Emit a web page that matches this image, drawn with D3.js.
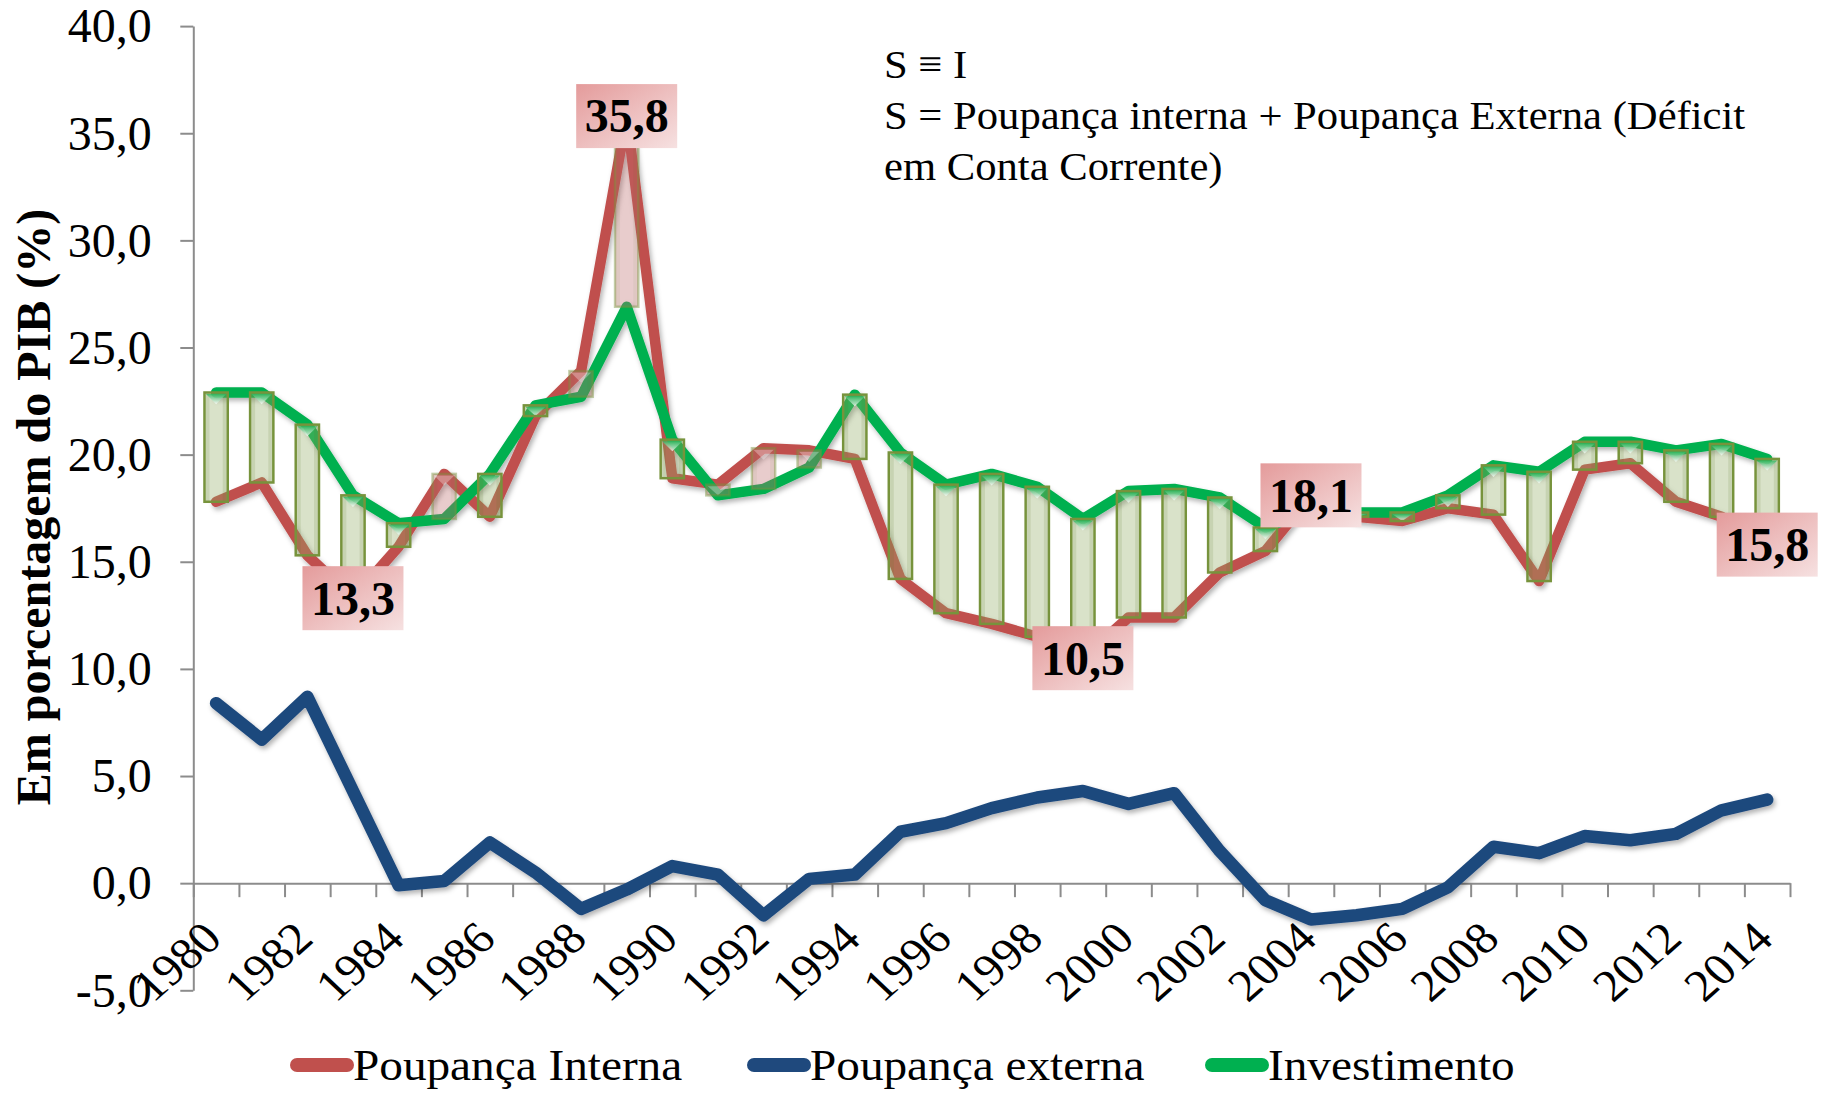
<!DOCTYPE html>
<html>
<head>
<meta charset="utf-8">
<script src="https://cdn.jsdelivr.net/npm/d3@7/dist/d3.min.js"></script>
<style>
body { margin: 0; background: #fff; }
svg text { font-family: "Liberation Serif", "Times New Roman", serif; fill: #000; }
</style>
</head>
<body>
<svg id="chart" width="1826" height="1095"></svg>
<script>
var anos = ["1980", "1981", "1982", "1983", "1984", "1985", "1986", "1987", "1988", "1989",
    "1990", "1991", "1992", "1993", "1994", "1995", "1996", "1997", "1998", "1999",
    "2000", "2001", "2002", "2003", "2004", "2005", "2006", "2007", "2008", "2009",
    "2010", "2011", "2012", "2013", "2014"];

var poupancaInterna = [17.8, 18.7, 15.3, 13.3, 15.7, 19.1, 17.1, 21.8, 23.9, 35.8,
    18.9, 18.6, 20.3, 20.2, 19.8, 14.2, 12.6, 12.1, 11.5, 10.5,
    12.4, 12.4, 14.5, 15.5, 18.1, 17.1, 16.9, 17.5, 17.2, 14.1,
    19.3, 19.6, 17.8, 17.1, 15.8];

var poupancaExterna = [8.4, 6.7, 8.7, 4.3, -0.1, 0.1, 1.9, 0.5, -1.2, -0.3,
    0.8, 0.4, -1.5, 0.2, 0.4, 2.4, 2.8, 3.5, 4.0, 4.3,
    3.7, 4.2, 1.5, -0.8, -1.7, -1.5, -1.2, -0.2, 1.7, 1.4,
    2.2, 2.0, 2.3, 3.4, 3.9];

var investimento = [22.9, 22.9, 21.4, 18.1, 16.8, 17.0, 19.1, 22.3, 22.7, 26.9,
    20.7, 18.1, 18.4, 19.4, 22.8, 20.1, 18.6, 19.1, 18.5, 17.0,
    18.3, 18.4, 18.0, 16.6, 17.4, 17.3, 17.3, 18.1, 19.5, 19.2,
    20.6, 20.6, 20.2, 20.5, 19.8];

var yTicks = [-5, 0, 5, 10, 15, 20, 25, 30, 35, 40];
var xTickLabels = ["1980", "1982", "1984", "1986", "1988", "1990", "1992", "1994", "1996",
    "1998", "2000", "2002", "2004", "2006", "2008", "2010", "2012", "2014"];
var destaques = ["1983", "1989", "1999", "2004", "2014"];
var legenda = ["Poupança Interna", "Poupança externa", "Investimento"];
var cores = ["#c0504d", "#1f497d", "#00b050"];
var notas = ["S \u2261 I", "S = Poupança interna + Poupança Externa (Déficit", "em Conta Corrente)"];

var fmt = function (v) { return v.toFixed(1).replace(".", ","); };

var svg = d3.select("#chart");
var defs = svg.append("defs");

var sombra = defs.append("filter").attr("id", "sombra")
    .attr("x", "-10%").attr("y", "-10%").attr("width", "120%").attr("height", "130%");
sombra.append("feDropShadow").attr("dx", 2).attr("dy", 3).attr("stdDeviation", 2.5)
    .attr("flood-color", "#000").attr("flood-opacity", 0.3);

var gradRotulo = defs.append("linearGradient").attr("id", "gradRotulo")
    .attr("x1", 0).attr("y1", 0).attr("x2", 1).attr("y2", 1);
gradRotulo.append("stop").attr("offset", "0%").attr("stop-color", "#e49b9b");
gradRotulo.append("stop").attr("offset", "100%").attr("stop-color", "#f6e1e1");

var gradTopo = defs.append("linearGradient").attr("id", "gradTopo")
    .attr("x1", 0).attr("y1", 0).attr("x2", 0).attr("y2", 1);
gradTopo.append("stop").attr("offset", "0%").attr("stop-color", "#2fb55c").attr("stop-opacity", 0.85);
gradTopo.append("stop").attr("offset", "100%").attr("stop-color", "#ffffff").attr("stop-opacity", 0.75);

var x = d3.scaleBand().domain(anos).range([193.3, 1790]);
var xBorda = d3.scaleLinear().domain([0, anos.length]).range([193.3, 1790]);
var y = d3.scaleLinear().domain([-5, 40]).range([990.3, 26.1]);
var cx = function (ano) { return x(ano) + x.bandwidth() / 2; };

// eixos
var eixoY = svg.append("g").attr("transform", "translate(193.3,0)")
    .call(d3.axisLeft(y).tickValues(yTicks).tickSize(13).tickSizeOuter(0).tickFormat(""));
var eixoX = svg.append("g").attr("transform", "translate(0," + y(0) + ")")
    .call(d3.axisBottom(xBorda).tickValues(d3.range(anos.length + 1)).tickSize(14).tickSizeOuter(0).tickFormat(""));
[eixoY, eixoX].forEach(function (g) {
    g.selectAll("path, line").attr("stroke", "#8c8c8c").attr("stroke-width", 2);
});

svg.append("g").selectAll("text")
    .data(yTicks)
    .enter()
    .append("text")
    .attr("x", 151.7)
    .attr("y", function (d) { return y(d); })
    .attr("text-anchor", "end")
    .attr("dy", "0.34em")
    .style("font-size", "48px")
    .text(fmt);

svg.append("g").selectAll("g")
    .data(xTickLabels)
    .enter()
    .append("g")
    .attr("transform", function (d) { return "translate(" + (cx(d) + 8) + ",941) scale(1.1,1) rotate(-44)"; })
    .append("text")
    .attr("text-anchor", "end")
    .style("font-size", "45px")
    .text(function (d) { return d; });

svg.append("text")
    .attr("transform", "translate(50,507) rotate(-90)")
    .attr("text-anchor", "middle")
    .style("font-size", "48px")
    .style("font-weight", "bold")
    .text("Em porcentagem do PIB (%)");

// linhas
var series = [poupancaInterna, poupancaExterna, investimento];
var linha = d3.line()
    .x(function (d, i) { return cx(anos[i]); })
    .y(function (d) { return y(d); });

svg.append("g").attr("filter", "url(#sombra)").selectAll("path")
    .data(series)
    .enter()
    .append("path")
    .attr("d", linha)
    .attr("fill", "none")
    .attr("stroke", function (d, i) { return cores[i]; })
    .attr("stroke-width", function (d, i) { return i === 1 ? 12.5 : 10.5; })
    .attr("stroke-linejoin", "round")
    .attr("stroke-linecap", "round");

// barras de alta/baixa
var larg = x.bandwidth() * 0.51;
var barras = svg.append("g").selectAll("g")
    .data(anos)
    .enter()
    .append("g")
    .attr("transform", function (d) { return "translate(" + (cx(d) - larg / 2) + ",0)"; });

barras.each(function (ano, i) {
    var g = d3.select(this),
        a = poupancaInterna[i],
        f = investimento[i],
        alta = f >= a,
        topo = y(Math.max(a, f)),
        alt = Math.abs(y(a) - y(f));

    g.append("rect")
        .attr("y", topo)
        .attr("width", larg)
        .attr("height", alt)
        .attr("fill", alta ? "#92ac65" : "#bd6d6d")
        .attr("fill-opacity", 0.35);
    g.append("rect")
        .attr("x", 1.5)
        .attr("y", topo)
        .attr("width", 3.5)
        .attr("height", alt)
        .attr("fill", "#5a7a2a")
        .attr("fill-opacity", alta ? 0.14 : 0.06);
    g.append("rect")
        .attr("x", larg - 5)
        .attr("y", topo)
        .attr("width", 3.5)
        .attr("height", alt)
        .attr("fill", "#5a7a2a")
        .attr("fill-opacity", alta ? 0.14 : 0.06);
    var prof = Math.min(larg / 2, alt);
    g.append("polygon")
        .attr("points", [[1.5, topo + 1.5], [larg - 1.5, topo + 1.5], [larg / 2, topo + prof]].join(" "))
        .attr("fill", alta ? "url(#gradTopo)" : "#ffffff")
        .attr("fill-opacity", alta ? 1 : 0.3);
    g.append("rect")
        .attr("y", topo)
        .attr("width", larg)
        .attr("height", alt)
        .attr("fill", "none")
        .attr("stroke", "#77933c")
        .attr("stroke-opacity", alta ? 1 : 0.45)
        .attr("stroke-width", 2.5);
});

// rotulos de destaque
var rotulos = svg.append("g").selectAll("g")
    .data(destaques)
    .enter()
    .append("g")
    .attr("transform", function (d) {
        return "translate(" + cx(d) + "," + y(poupancaInterna[anos.indexOf(d)]) + ")";
    });
rotulos.append("rect")
    .attr("x", -50.5).attr("y", -32)
    .attr("width", 101).attr("height", 64)
    .attr("fill", "url(#gradRotulo)");
rotulos.append("text")
    .attr("text-anchor", "middle")
    .attr("dy", "0.34em")
    .style("font-size", "48px")
    .style("font-weight", "bold")
    .text(function (d) { return fmt(poupancaInterna[anos.indexOf(d)]); });

// nota
svg.append("g").selectAll("g")
    .data(notas)
    .enter()
    .append("g")
    .attr("transform", function (d, i) { return "translate(884," + (78 + i * 51) + ") scale(1.04,1)"; })
    .append("text")
    .style("font-size", "41px")
    .text(function (d) { return d; });

// legenda
var legX = [290, 747, 1205];
var leg = svg.append("g").selectAll("g")
    .data(legenda)
    .enter()
    .append("g")
    .attr("transform", function (d, i) { return "translate(" + legX[i] + ",1065)"; });
leg.append("line")
    .attr("x1", 7).attr("x2", 57)
    .attr("stroke", function (d, i) { return cores[i]; })
    .attr("stroke-width", 14)
    .attr("stroke-linecap", "round");
leg.append("g")
    .attr("transform", "translate(63,15) scale(1.05,1)")
    .append("text")
    .style("font-size", "45px")
    .text(function (d) { return d; });
</script>
</body>
</html>
